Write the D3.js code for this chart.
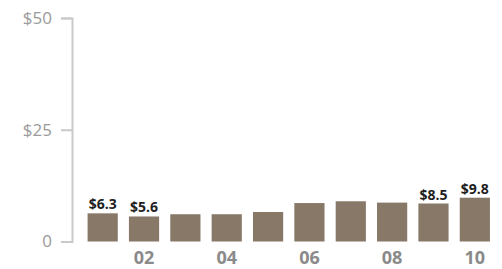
<!DOCTYPE html>
<html>
<head>
<meta charset="utf-8">
<script src="https://cdn.jsdelivr.net/npm/d3@7"></script>
<style>
  body { margin: 0; background: #fff; }
</style>
</head>
<body>
<div class="graph"></div>
<script>
// data
var years = ["01", "02", "03", "04", "05", "06", "07", "08", "09", "10"]
var values = [6.3, 5.6, 6.1, 6.1, 6.6, 8.6, 9.0, 8.7, 8.5, 9.8]
var labelled = ["01", "02", "09", "10"]
var yTicks = [0, 25, 50]
var xTickLabels = ["02", "04", "06", "08", "10"]

const w = 502
const h = 269

const svg = d3.select(".graph")
  .append("svg")
  .attr("width", w)
  .attr("height", h)
  .style("font-family", "'Open Sans', sans-serif")

const x = d3.scaleBand()
  .domain(years)
  .range([82, 495.5])
  .paddingInner(0.27)
  .paddingOuter(0.135)

const y = d3.scaleLinear()
  .domain([0, 50])
  .range([241.5, 18])

// y axis
const yAxis = svg.append("g")
  .attr("transform", "translate(72,0)")
  .call(d3.axisLeft(y)
    .tickValues(yTicks)
    .tickSize(11)
    .tickPadding(9)
    .tickFormat(d => d === 0 ? "0" : "$" + d))
yAxis.select(".domain").attr("stroke", "#c9c9c9").attr("stroke-width", 2)
yAxis.selectAll(".tick line").attr("stroke", "#c9c9c9").attr("stroke-width", 2)
yAxis.selectAll(".tick text")
  .attr("fill", "#9a9a9a")
  .style("font-size", "17px")
  .style("font-family", "'Open Sans', sans-serif")

// bars
svg.selectAll("rect")
  .data(values)
  .enter()
  .append("rect")
  .attr("x", (d, i) => x(years[i]))
  .attr("y", d => y(d))
  .attr("width", x.bandwidth())
  .attr("height", d => y(0) - y(d))
  .style("fill", "#877868")

// value labels
svg.selectAll(".val")
  .data(values.map((v, i) => ({year: years[i], v: v})).filter(d => labelled.includes(d.year)))
  .enter()
  .append("text")
  .attr("class", "val")
  .attr("x", d => x(d.year) + x.bandwidth() / 2)
  .attr("y", d => y(d.v) - 4)
  .attr("text-anchor", "middle")
  .style("font-size", "14px")
  .style("font-weight", "bold")
  .style("fill", "#1e1e1e")
  .text(d => "$" + d.v.toFixed(1))

// x axis labels
const xAxis = svg.append("g")
  .attr("transform", "translate(0,242)")
  .call(d3.axisBottom(x).tickValues(xTickLabels).tickSize(0).tickPadding(9))
xAxis.select(".domain").remove()
xAxis.selectAll(".tick text")
  .attr("fill", "#8a8a8a")
  .style("font-size", "18px")
  .style("font-weight", "bold")
  .style("font-family", "'Open Sans', sans-serif")
</script>
</body>
</html>
